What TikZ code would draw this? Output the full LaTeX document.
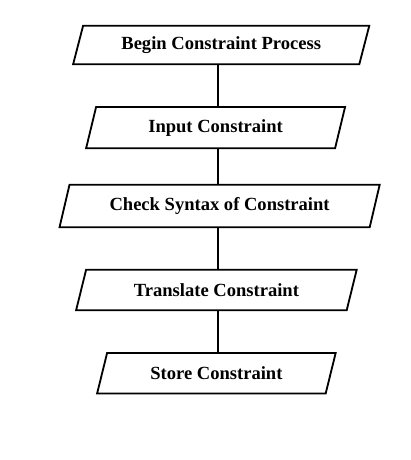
\documentclass[tikz,border=0pt]{standalone}
\usepackage{fontspec}
\setmainfont{Liberation Serif}
\usepackage{tikz}
\usetikzlibrary{positioning}

\begin{document}
\begin{tikzpicture}[
    step box/.style={minimum height=1cm, inner sep=0pt,
        font=\fontsize{13.2}{16}\selectfont\bfseries}
    ]
                        \useasboundingbox (0, 0) rectangle (10.25, -11.5);
                        \coordinate (spine) at (5.45, 0);

                        \node[step box, minimum width=7.14cm, minimum height=0.95cm] (begin) at (5.53, -1.125) {Begin Constraint Process};
                        \node[step box, minimum width=6.21cm, minimum height=1.02cm] (input) at (5.39, -3.19) {Input Constraint};
                        \node[step box, minimum width=7.74cm, minimum height=1.05cm] (check) at (5.49, -5.15) {Check Syntax of Constraint};
                        \node[step box, minimum width=6.75cm] (translate) at (5.41, -7.25) {Translate Constraint};
                        \node[step box, minimum width=5.7cm] (store) at (5.41, -9.33) {Store Constraint};

                        % slanted outlines
                        \foreach \n in {begin, input, check, translate, store}
                            \draw[line width=1.3pt]
                            ([xshift=0.125cm]\n.north west) -- ([xshift=0.125cm]\n.north east)
                            -- ([xshift=-0.125cm]\n.south east) -- ([xshift=-0.125cm]\n.south west) -- cycle;

                        \draw[line width=1pt]
                        (begin.south -| spine) -- (input.north -| spine)
                        (input.south -| spine) -- (check.north -| spine)
                        (check.south -| spine) -- (translate.north -| spine)
                        (translate.south -| spine) -- (store.north -| spine);
                    \end{tikzpicture}
\end{document}
